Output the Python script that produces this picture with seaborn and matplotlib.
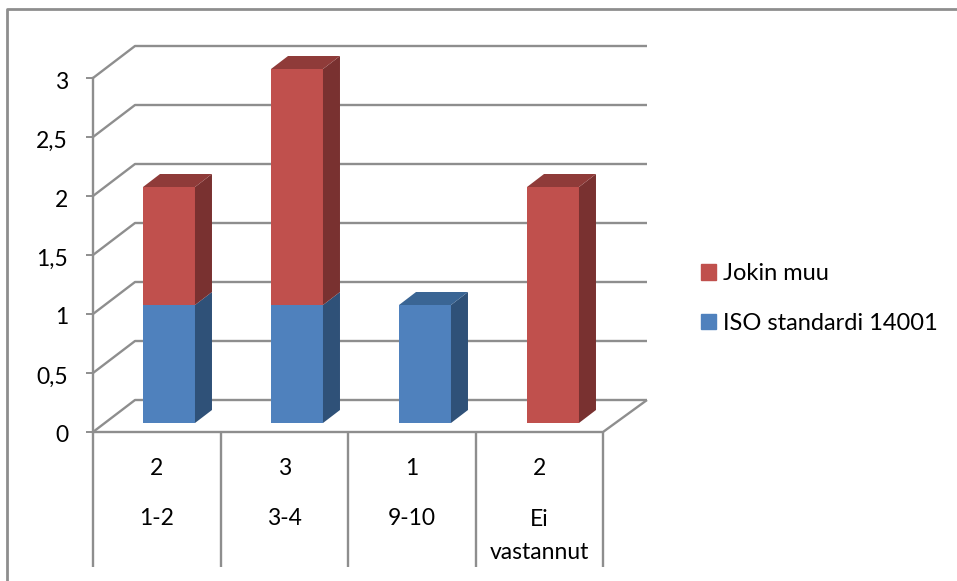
import matplotlib
matplotlib.use('Agg')
import matplotlib.pyplot as plt
import numpy as np
import seaborn as sns
from matplotlib.lines import Line2D
from matplotlib.patches import Patch, Polygon
from matplotlib.transforms import Affine2D

categories = ['1-2', '3-4', '9-10', 'Ei\nvastannut']
iso_values = [1, 1, 1, 0]
other_values = [1, 2, 0, 2]
totals = [2, 3, 1, 2]
y_ticks = [0, 0.5, 1, 1.5, 2, 2.5, 3]
y_tick_labels = ['0', '0,5', '1', '1,5', '2', '2,5', '3']
series_names = ['Jokin muu', 'ISO standardi 14001']

BLUE = '#4F81BD'
RED = '#C0504D'
BLUE_SIDE = '#2F5178'
RED_SIDE = '#793130'
BLUE_TOP = '#3A6594'
RED_TOP = '#8F3B39'
LINE = '#8E8E8E'
FONT_SIZE = 16.5

W, H = 957, 581


def px_axes(fig, left, right, top, bottom):
    # axes rectangle given in image pixels, y counted from the top
    return fig.add_axes([left / W, 1 - bottom / H, (right - left) / W, (bottom - top) / H])


def px_line(fig, xs, ys, lw=1.7):
    fig.add_artist(Line2D(np.array(xs) / W, 1 - np.array(ys) / H, color=LINE, lw=lw,
                          transform=fig.transFigure, solid_capstyle='butt'))


sns.set_theme(style='white')
plt.rcParams['font.family'] = ['Lato', 'DejaVu Sans']

fig = plt.figure(figsize=(W / 100, H / 100), dpi=100, facecolor='white')

# outer chart frame
px_line(fig, [7.5, 7.5, 957], [581, 8.5, 8.5], lw=2)

# front plane: value axis and the category table below it
ax = px_axes(fig, 93, 603, 78, 432)
ax.set_xlim(-0.5, 3.5)
ax.set_ylim(0, 3)
ax.patch.set_visible(False)
ax.set_yticks(y_ticks)
ax.set_yticklabels(y_tick_labels, fontsize=FONT_SIZE, color='black')
ax.tick_params(axis='y', length=5, width=1.4, color=LINE, pad=13, left=True)
for label in ax.get_yticklabels():
    label.set_transform(label.get_transform() + Affine2D().translate(0, -2))
ax.set_xticks([])
sns.despine(ax=ax, top=True, right=True, bottom=True)
ax.spines['left'].set_color(LINE)
ax.spines['left'].set_linewidth(1.7)

# walls and floor, shifted into depth from the front plane
for v in y_ticks:
    x0, y0 = ax.transData.transform((-0.5, v))
    py = H - y0
    px_line(fig, [x0, x0 + 42, 647], [py, py - 32, py - 32])
x1, y1 = ax.transData.transform((3.5, 0))
px_line(fig, [x0, x1, x1 + 44], [H - y1, H - y1, H - y1 - 32])

# category table
for i in range(5):
    xt = ax.transData.transform((i - 0.5, 0))[0]
    px_line(fig, [xt, xt], [432, 567])
for i, (total, cat) in enumerate(zip(totals, categories)):
    xc = ax.transData.transform((i, 0))[0] / W
    fig.text(xc, 1 - 468.5 / H, str(total), ha='center', va='center', fontsize=FONT_SIZE, color='black')
    fig.text(xc, 1 - 536 / H if '\n' in cat else 1 - 518.5 / H, cat, ha='center', va='center',
             fontsize=FONT_SIZE, color='black', linespacing=1.68)

# bars sit a little behind the front plane, above the wall lines
ax_bars = px_axes(fig, 105, 617, 69, 423)
ax_bars.set_zorder(5)
ax_bars.patch.set_visible(False)
sns.barplot(x=categories, y=iso_values, color=BLUE, saturation=1, width=0.406,
            linewidth=0, ax=ax_bars)
sns.barplot(x=categories, y=other_values, bottom=iso_values, color=RED, saturation=1,
            width=0.406, linewidth=0, ax=ax_bars)
ax_bars.set_xlim(-0.5, 3.5)
ax_bars.set_ylim(0, 3)
ax_bars.axis('off')

bars = list(ax_bars.patches)
DX, DY = 17, 13
for i, bar in enumerate(bars):
    if bar.get_height() == 0:
        continue
    is_blue = i < len(categories)
    (xa, ya), (xb, yb) = ax_bars.transData.transform(
        [(bar.get_x(), bar.get_y()), (bar.get_x() + bar.get_width(), bar.get_y() + bar.get_height())])
    ax_bars.add_patch(Polygon([(xb, ya), (xb + DX, ya + DY), (xb + DX, yb + DY), (xb, yb)],
                              closed=True, transform=None, clip_on=False, lw=0,
                              fc=BLUE_SIDE if is_blue else RED_SIDE))
    k = i % len(categories)
    topmost = is_blue and other_values[k] == 0 or not is_blue
    if topmost:
        ax_bars.add_patch(Polygon([(xa, yb), (xb, yb), (xb + DX, yb + DY), (xa + DX, yb + DY)],
                                  closed=True, transform=None, clip_on=False, lw=0,
                                  fc=BLUE_TOP if is_blue else RED_TOP))

handles = [Patch(color=RED), Patch(color=BLUE)]
fig.legend(handles, series_names, loc='center left', bbox_to_anchor=(701 / W, 1 - 298.5 / H),
           frameon=False, fontsize=17, handlelength=0.63, handleheight=0.63,
           labelspacing=1.2, handletextpad=0.3, borderpad=0, borderaxespad=0, labelcolor='black')

fig.savefig('out.png', dpi=100)
